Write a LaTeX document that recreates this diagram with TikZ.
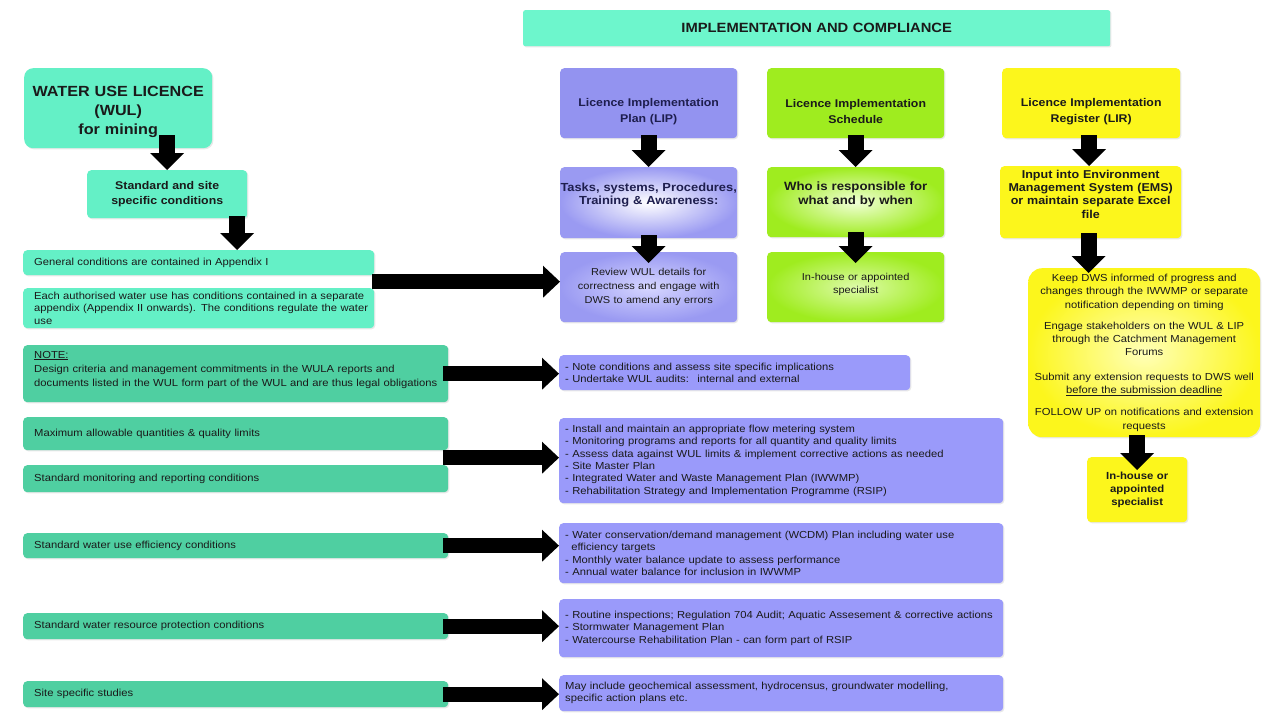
\documentclass[tikz,border=0pt]{standalone}
\usepackage{fontspec}
\setmainfont{Liberation Sans}[FakeStretch=1.1]
\usetikzlibrary{arrows.meta,shadows,calc}
\definecolor{aqua}{HTML}{64F0C6}
\definecolor{bannerc}{HTML}{6DF6CC}
\definecolor{dgreen}{HTML}{4FCFA1}
\definecolor{lav}{HTML}{9A9AFA}
\definecolor{lavtop}{HTML}{9393F0}
\definecolor{lavedge}{HTML}{9A9AF2}
\definecolor{lavin}{HTML}{D6D6FF}
\definecolor{lime}{HTML}{9FEC1F}
\definecolor{limein}{HTML}{F0FFD6}
\definecolor{limein2}{HTML}{DDFBA8}
\definecolor{yel}{HTML}{FCF61C}
\definecolor{yelin}{HTML}{FFFFB8}
\definecolor{navy}{HTML}{1E1E4E}
\definecolor{ink}{HTML}{1A1A1A}
\newcommand\lin[1]{\mbox{#1}}
\newcommand\up[1]{\rule{0pt}{#1}}
\newcommand\dn[1]{\rule[-#1]{0pt}{#1}}
\begin{document}
\begin{tikzpicture}[x=1pt,y=-1pt,
  box/.style={anchor=north west, rounded corners=4pt, inner ysep=1pt, text=ink,
     drop shadow={opacity=0.18, shadow xshift=1.2pt, shadow yshift=-1.2pt}},
  sz/.style n args={3}{minimum width=#1pt, minimum height=#2pt, text width=#3pt},
  smallf/.style={font=\fontsize{10.2}{12.3}\selectfont},
  lgreen/.style={box, fill=aqua, inner xsep=11pt, align=left, smallf},
  dgbox/.style={box, fill=dgreen, inner xsep=11pt, align=left, smallf},
  pbox/.style={box, fill=lav, inner xsep=6pt, align=left, smallf},
  ttl/.style={box, inner xsep=4pt, align=center, font=\bfseries\fontsize{11.2}{16}\selectfont},
  harrow/.style={line width=15pt, -{Triangle[length=17pt,width=32pt,line width=0pt]}},
  varrow/.style={line width=16pt, -{Triangle[length=17pt,width=34pt,line width=0pt]}},
]
\useasboundingbox (0,0) rectangle (1266,717);
\fill[white] (0,0) rectangle (1266,717);

% banner
\node[box, fill=bannerc, rounded corners=2pt, sz={587}{36}{579}, inner xsep=4pt, align=center,
  font=\bfseries\fontsize{13.4}{16}\selectfont] (banner) at (523,10) {IMPLEMENTATION AND COMPLIANCE};

% left column
\node[box, fill=aqua, rounded corners=9pt, sz={188}{80}{180}, inner xsep=4pt, align=center,
  font=\bfseries\fontsize{14.7}{19}\selectfont] (wul) at (24,68) {\up{18pt}WATER USE LICENCE\\(WUL)\\for mining};
\node[box, fill=aqua, sz={160}{48}{152}, inner xsep=4pt, align=center,
  font=\bfseries\fontsize{11.2}{15.5}\selectfont] (std) at (87,170) {Standard and site\\specific conditions};
\node[lgreen, sz={351}{25}{329}] (gen) at (23,250) {General conditions are contained in Appendix I};
\node[lgreen, sz={351}{40}{329}] (each) at (23,288) {\lin{Each authorised water use has conditions contained in a separate}\\\lin{appendix (Appendix II onwards). The conditions regulate the water}\\use};
\node[dgbox, sz={425}{57}{403}, font=\fontsize{10.2}{14.2}\selectfont] (note) at (23,345) {\underline{NOTE:}\\\lin{Design criteria and management commitments in the WULA reports and}\\\lin{documents listed in the WUL form part of the WUL and are thus legal obligations}\dn{10pt}};
\node[dgbox, sz={425}{33}{403}] (max) at (23,417) {Maximum allowable quantities \& quality limits};
\node[dgbox, sz={425}{27}{403}] (mon) at (23,465) {Standard monitoring and reporting conditions};
\node[dgbox, sz={425}{25}{403}] (wue) at (23,533) {Standard water use efficiency conditions};
\node[dgbox, sz={425}{26}{403}] (wrp) at (23,613) {Standard water resource protection conditions};
\node[dgbox, sz={425}{26}{403}] (site) at (23,681) {Site specific studies};

% LIP column
\node[ttl, fill=lavtop, text=navy, sz={177}{70}{169}] (lip) at (560,68) {\up{24pt}Licence Implementation\\Plan (LIP)};
\node[ttl, inner color=white, outer color=lavedge, text=navy, sz={177}{71}{177}, inner xsep=0pt,
  font=\bfseries\fontsize{11.7}{13.8}\selectfont] (tasks) at (560,167) {\lin{Tasks, systems, Procedures,}\\Training \& Awareness:\dn{18pt}};
\node[ttl, inner color=lavin, outer color=lavedge, sz={177}{70}{169},
  font=\fontsize{10}{14}\selectfont] (rev) at (560,252) {Review WUL details for\\correctness and engage with\\DWS to amend any errors};

% LIS column
\node[ttl, fill=lime, sz={177}{70}{169}] (lis) at (767,68) {\up{24pt}Licence Implementation\\Schedule};
\node[ttl, inner color=limein, outer color=lime, sz={177}{70}{169},
  font=\bfseries\fontsize{12}{13.8}\selectfont] (who) at (767,167) {Who is responsible for\\what and by when\dn{18pt}};
\node[ttl, inner color=limein2, outer color=lime, sz={177}{70}{169},
  font=\fontsize{10}{13}\selectfont] (inh) at (767,252) {In-house or appointed\\specialist\dn{8pt}};

% LIR column
\node[ttl, fill=yel, sz={178}{70}{170}] (lir) at (1002,68) {\up{24pt}Licence Implementation\\Register (LIR)};
\node[ttl, fill=yel, sz={181}{72}{175}, inner xsep=3pt,
  font=\bfseries\fontsize{11.4}{13.3}\selectfont] (input) at (1000,166) {Input into Environment\\Management System (EMS)\\or maintain separate Excel\\file\dn{16pt}};
\node[ttl, inner color=yelin, outer color=yel, rounded corners=14pt, sz={232}{169}{224},
  font=\fontsize{10.2}{13.3}\selectfont] (keep) at (1028,268)
  {Keep DWS informed of progress and\\changes through the IWWMP or separate\\notification depending on timing\\[8pt]
   Engage stakeholders on the WUL \& LIP\\through the Catchment Management\\Forums\\[11pt]
   Submit any extension requests to DWS well\\\underline{before the submission deadline}\\[9pt]
   FOLLOW UP on notifications and extension\\requests};
\node[ttl, fill=yel, sz={100}{65}{92},
  font=\bfseries\fontsize{10.3}{13.3}\selectfont] (inh2) at (1087,457) {In-house or\\appointed\\specialist};

% purple action boxes
\node[pbox, sz={351}{35}{339}] (nc) at (559,355) {- Note conditions and assess site specific implications\\- Undertake WUL audits:~ internal and external};
\node[pbox, sz={444}{85}{432}] (inst) at (559,418) {- Install and maintain an appropriate flow metering system\\- Monitoring programs and reports for all quantity and quality limits\\\lin{- Assess data against WUL limits \& implement corrective actions as needed}\\- Site Master Plan\\- Integrated Water and Waste Management Plan (IWWMP)\\- Rehabilitation Strategy and Implementation Programme (RSIP)};
\node[pbox, sz={444}{60}{432}] (wcdm) at (559,523) {\lin{- Water conservation/demand management (WCDM) Plan including water use}\\\hspace*{0.6em}efficiency targets\\- Monthly water balance update to assess performance\\- Annual water balance for inclusion in IWWMP};
\node[pbox, sz={444}{58}{432}] (rout) at (559,599) {\lin{- Routine inspections; Regulation 704 Audit; Aquatic Assesement \& corrective actions}\\- Stormwater Management Plan\\- Watercourse Rehabilitation Plan - can form part of RSIP};
\node[pbox, sz={444}{36}{432}] (may) at (559,675) {\lin{May include geochemical assessment, hydrocensus, groundwater modelling,}\\specific action plans etc.};

% vertical arrows
\draw[varrow] ($(wul.south -| std.north)+(0,-13)$) -- (std.north);
\coordinate (a2) at ($(std.south)+(70,-2)$);
\draw[varrow] (a2) -- (a2 |- gen.north);
\draw[varrow] ($(lip.south)+(0,-3)$) -- (tasks.north);
\draw[varrow] ($(tasks.south)+(0,-3)$) -- ($(rev.north)+(0,11)$);
\draw[varrow] ($(lis.south)+(0,-3)$) -- (who.north);
\draw[varrow] ($(who.south)+(0,-5)$) -- ($(inh.north)+(0,11)$);
\draw[varrow] ($(lir.south)+(-2,-3)$) -- ($(lir.south |- input.north)+(-2,0)$);
\coordinate (a8) at ($(input.south)+(-2,-5)$);
\draw[varrow] (a8) -- ($(a8 |- keep.north)+(0,5)$);
\draw[varrow] ($(keep.south -| inh2.north)+(0,-2)$) -- ($(inh2.north)+(0,13)$);

% horizontal arrows
\coordinate (h1) at ($(gen.south east)!0.5!(each.north east)$);
\draw[harrow] ($(h1)+(-2,0)$) -- (h1 -| rev.west);
\draw[harrow] ($(note.east)+(-5,0)$) -- (note.east -| nc.west);
\coordinate (h3) at ($(max.south east)!0.5!(mon.north east)$);
\draw[harrow] ($(h3)+(-5,0)$) -- (h3 -| inst.west);
\draw[harrow] ($(wue.east)+(-5,0)$) -- (wue.east -| wcdm.west);
\draw[harrow] ($(wrp.east)+(-5,0)$) -- (wrp.east -| rout.west);
\draw[harrow] ($(site.east)+(-5,0)$) -- (site.east -| may.west);
\end{tikzpicture}
\end{document}
